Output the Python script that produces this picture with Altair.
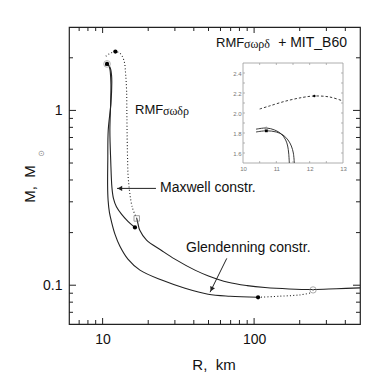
import altair as alt
import pandas as pd

# ---------------- data (R in km, M in solar masses) ----------------
# Maxwell construction branch (inner)
A_R = [10.4, 10.7, 11.0, 11.2, 11.3, 11.35, 11.3, 11.17, 11.31, 11.52, 11.79, 12.34, 13.36, 14.69, 16.35]
A_M = [1.83, 1.845, 1.80, 1.70, 1.55, 1.4, 1.1, 0.769, 0.518, 0.363, 0.314, 0.281, 0.254, 0.232, 0.214]
# Glendenning construction branch (outer)
B_R = [10.4, 10.7, 11.05, 11.3, 11.45, 11.5, 11.35, 10.89, 10.82, 10.79, 10.87, 11.09, 11.47, 12.06, 13.01,
       14.69, 17.64, 24.55, 35.0, 49.7, 69.4, 106.2]
B_M = [1.81, 1.825, 1.80, 1.72, 1.6, 1.45, 1.1, 0.769, 0.518, 0.373, 0.306, 0.261, 0.229, 0.196, 0.167,
       0.141, 0.122, 0.107, 0.0961, 0.0888, 0.0865, 0.0853]
# hadronic branch, low-mass part (solid)
U_R = [16.8, 17.1, 17.6, 19.5, 24.5, 30.0, 40.7, 50.0, 67.3, 90.0, 118, 170, 245, 350, 500]
U_M = [0.241, 0.226, 0.206, 0.181, 0.158, 0.141, 0.122, 0.113, 0.104, 0.0995, 0.097, 0.0952, 0.0945, 0.0955, 0.0965]
# hadronic branch, high-mass part (dotted)
D_R = [10.5, 11.0, 11.6, 12.14, 12.7, 13.3, 13.9, 14.2, 14.4, 14.45, 14.5, 14.6, 14.8, 15.7, 16.8]
D_M = [2.04, 2.10, 2.15, 2.17, 2.15, 2.08, 1.9, 1.6, 1.3, 1.0, 0.77, 0.55, 0.40, 0.279, 0.241]
# dotted connector at low mass
E_R = [106, 150, 200, 240]
E_M = [0.0853, 0.0866, 0.0880, 0.0905]

# markers
DOT_R = [12.14, 10.7, 16.35, 106.2]
DOT_M = [2.17, 1.845, 0.214, 0.0853]
SQ_R = [16.8]
SQ_M = [0.241]
CIRC_R = [245]
CIRC_M = [0.094]
RING_R = [10.7]
RING_M = [1.845]

# arrows
MAXW_R = [22.5, 12.45]
MAXW_M = [0.358, 0.358]
MAXW_HEAD_R = [13.0]
MAXW_HEAD_M = [0.358]
GLEN_R = [66.0, 51.2]
GLEN_M = [0.1424, 0.0912]
GLEN_HEAD_R = [52.4]
GLEN_HEAD_M = [0.0948]

# axis ticks
X_MAJOR = [10, 100]
X_MINOR = [7, 8, 9, 20, 30, 40, 50, 60, 70, 80, 90, 200, 300, 400]
Y_MAJOR = [0.1, 1]
Y_MINOR = [0.07, 0.08, 0.09, 0.2, 0.3, 0.4, 0.5, 0.6, 0.7, 0.8, 0.9, 2]

# inset data
ID_R = [10.5, 10.79, 11.29, 11.79, 12.14, 12.6, 13.0]
ID_M = [2.04, 2.07, 2.12, 2.156, 2.17, 2.16, 2.12]
I1_R = [10.39, 10.7, 10.95, 11.15, 11.28, 11.34, 11.37, 11.39]
I1_M = [1.838, 1.85, 1.83, 1.79, 1.73, 1.67, 1.60, 1.5]
I2_R = [10.39, 10.7, 11.0, 11.2, 11.35, 11.45, 11.51, 11.54]
I2_M = [1.81, 1.822, 1.81, 1.78, 1.73, 1.67, 1.60, 1.5]
IN_DOT_R = [12.14]
IN_DOT_M = [2.17]
IN_SQ_R = [10.7]
IN_SQ_M = [1.822]
IN_TRI_R = [10.7]
IN_TRI_M = [1.85]
IN_X_LABELS = [10, 11, 12, 13]
IN_Y_LABELS = [1.6, 1.8, 2.0, 2.2, 2.4]
IN_X_TICKS = [10.5, 11, 11.5, 12, 12.5]
IN_Y_TICKS = [1.6, 1.7, 1.8, 1.9, 2.0, 2.1, 2.2, 2.3, 2.4]

# ---------------- chart ----------------
W, H = 291, 297
FONT = "Liberation Sans"
INK = "#222"

xs = alt.Scale(type="log", domain=[6, 500], nice=False)
ys = alt.Scale(type="log", domain=[0.06, 3], nice=False)
x_axis = alt.Axis(values=X_MAJOR, format="~g", ticks=False, tickSize=0, domain=False, grid=False,
                  labelFontSize=14, labelFont=FONT, labelColor="#111", labelPadding=8,
                  title=None, orient="bottom", labelFlush=False)
y_axis = alt.Axis(values=Y_MAJOR, format="~g", ticks=False, tickSize=0, domain=False, grid=False,
                  labelFontSize=14, labelFont=FONT, labelColor="#111", labelPadding=7,
                  title=None, orient="left", labelFlush=False)


def X(f="R"):
    return alt.X(f"{f}:Q", scale=xs, axis=x_axis)


def Y(f="M"):
    return alt.Y(f"{f}:Q", scale=ys, axis=y_axis)


def frame(name, Rs, Ms):
    return pd.DataFrame({"R": Rs, "M": Ms, "s": name, "i": list(range(len(Rs)))})


solid = pd.concat([frame("A", A_R, A_M), frame("B", B_R, B_M), frame("U", U_R, U_M)])
dotted = pd.concat([frame("D", D_R, D_M), frame("E", E_R, E_M)])

solid_l = alt.Chart(solid).mark_line(color=INK, strokeWidth=1.1, interpolate="catmull-rom").encode(
    x=X(), y=Y(), detail="s:N", order="i:Q")
dotted_l = alt.Chart(dotted).mark_line(color=INK, strokeWidth=1.1, strokeDash=[1, 2.2],
                                       interpolate="catmull-rom").encode(
    x=X(), y=Y(), detail="s:N", order="i:Q")

ring_l = alt.Chart(frame("r", RING_R, RING_M)).mark_point(shape="circle", size=45, filled=False,
                                                          color="#999", strokeWidth=1).encode(x=X(), y=Y())
dots_l = alt.Chart(frame("d", DOT_R, DOT_M)).mark_point(shape="circle", size=18, filled=True,
                                                        color="#000", opacity=1).encode(x=X(), y=Y())
sq_l = alt.Chart(frame("q", SQ_R, SQ_M)).mark_point(shape="square", size=30, filled=False,
                                                    color="#777", strokeWidth=1).encode(x=X(), y=Y())
circ_l = alt.Chart(frame("c", CIRC_R, CIRC_M)).mark_point(shape="circle", size=40, filled=False,
                                                          color="#888", strokeWidth=1).encode(x=X(), y=Y())
circdot_l = alt.Chart(frame("c", CIRC_R, CIRC_M)).mark_point(shape="circle", size=3, filled=True,
                                                             color="#888", opacity=1).encode(x=X(), y=Y())

maxw_l = alt.Chart(frame("m", MAXW_R, MAXW_M)).mark_line(color=INK, strokeWidth=1).encode(
    x=X(), y=Y(), order="i:Q")
maxw_h = alt.Chart(frame("mh", MAXW_HEAD_R, MAXW_HEAD_M)).mark_point(
    shape="triangle-left", size=28, filled=True, color=INK, opacity=1).encode(x=X(), y=Y())
glen_l = alt.Chart(frame("g", GLEN_R, GLEN_M)).mark_line(color=INK, strokeWidth=1).encode(
    x=X(), y=Y(), order="i:Q")
glen_h = alt.Chart(frame("gh", GLEN_HEAD_R, GLEN_HEAD_M)).mark_point(
    shape="triangle-up", size=28, filled=True, color=INK, opacity=1, angle=206).encode(x=X(), y=Y())


def tick_layer(vals, side, length, xsc, ysc, xax, yax, w, h, x0=0, y0=0, color=INK, sw=1):
    df = pd.DataFrame({"v": vals})
    c = alt.Chart(df).mark_rule(color=color, strokeWidth=sw)
    xe = alt.X("v:Q", scale=xsc, axis=xax)
    ye = alt.Y("v:Q", scale=ysc, axis=yax)
    if side == "bottom":
        return c.encode(x=xe, y=alt.value(y0 + h), y2=alt.value(y0 + h - length))
    if side == "top":
        return c.encode(x=xe, y=alt.value(y0), y2=alt.value(y0 + length))
    if side == "left":
        return c.encode(y=ye, x=alt.value(x0), x2=alt.value(x0 + length))
    return c.encode(y=ye, x=alt.value(x0 + w), x2=alt.value(x0 + w - length))


main_ticks = []
for side in ["bottom", "top"]:
    main_ticks.append(tick_layer(X_MAJOR, side, 6, xs, ys, x_axis, y_axis, W, H))
    main_ticks.append(tick_layer(X_MINOR, side, 4, xs, ys, x_axis, y_axis, W, H))
for side in ["left", "right"]:
    main_ticks.append(tick_layer(Y_MAJOR, side, 7, xs, ys, x_axis, y_axis, W, H))
    main_ticks.append(tick_layer(Y_MINOR, side, 4, xs, ys, x_axis, y_axis, W, H))

one = pd.DataFrame({"a": [0]})


def label(txt, x, y, size=14, font=FONT, align="left", angle=0, color="#111"):
    return alt.Chart(one).mark_text(text=txt, align=align, baseline="middle", fontSize=size,
                                    font=font, angle=angle, color=color).encode(
        x=alt.value(x), y=alt.value(y))


NB = "\u00a0"
texts = [
    label("RMF", 66, 83, size=13),
    label("σωδρ", 94, 84, size=12, font="Liberation Serif"),
    label("RMF", 147, 16, size=13),
    label("σωρδ", 175, 17, size=12, font="Liberation Serif"),
    label("+ MIT_B60", 278, 16, size=14, align="right"),
    label("Maxwell constr.", 91, 161, size=14),
    label("Glendenning constr.", 117, 221, size=14),
    label("M," + NB + NB + "M", -39, 157, size=15, align="center", angle=270),
    label("⊙", -28, 127, size=8, align="center", color="#888"),
    label("R," + NB + NB + "km", 145, 338, size=15, align="center"),
]

main = alt.layer(*main_ticks, solid_l, dotted_l, maxw_l, maxw_h, glen_l, glen_h,
                 ring_l, dots_l, sq_l, circ_l, circdot_l, *texts)

# ---------------- inset ----------------
IX0, IX1, IY0, IY1 = 174, 274, 36, 136
xs_in = alt.Scale(domain=[10, 13], range=[IX0, IX1], nice=False, zero=False)
ys_in = alt.Scale(domain=[1.5, 2.5], range=[IY1, IY0], nice=False, zero=False)
ax_in = alt.Axis(values=IN_X_LABELS, format="d", orient="bottom", offset=IY1 - H, ticks=False, tickSize=0,
                 domain=False, grid=False, labelFontSize=6, labelFont=FONT, labelColor="#777",
                 labelPadding=2, title=None, labelFlush=False)
ay_in = alt.Axis(values=IN_Y_LABELS, format=".1f", orient="left", offset=-IX0, ticks=False, tickSize=0,
                 domain=False, grid=False, labelFontSize=6, labelFont=FONT, labelColor="#777",
                 labelPadding=2, title=None, labelFlush=False)


def XI(f="R"):
    return alt.X(f"{f}:Q", scale=xs_in, axis=ax_in)


def YI(f="M"):
    return alt.Y(f"{f}:Q", scale=ys_in, axis=ay_in)


box = alt.Chart(one).mark_rect(fill="white", stroke="#999", strokeWidth=0.8).encode(
    x=alt.value(IX0), x2=alt.value(IX1), y=alt.value(IY0), y2=alt.value(IY1))
in_ticks = []
for side in ["bottom", "top"]:
    in_ticks.append(tick_layer(IN_X_TICKS, side, 2, xs_in, ys_in, ax_in, ay_in, IX1 - IX0, IY1 - IY0,
                               IX0, IY0, color="#999", sw=0.7))
for side in ["left", "right"]:
    in_ticks.append(tick_layer(IN_Y_TICKS, side, 2, xs_in, ys_in, ax_in, ay_in, IX1 - IX0, IY1 - IY0,
                               IX0, IY0, color="#999", sw=0.7))

in_solid = pd.concat([frame("1", I1_R, I1_M), frame("2", I2_R, I2_M)])
in_solid_l = alt.Chart(in_solid).mark_line(color=INK, strokeWidth=0.9, interpolate="catmull-rom").encode(
    x=XI(), y=YI(), detail="s:N", order="i:Q")
in_dash_l = alt.Chart(frame("d", ID_R, ID_M)).mark_line(color=INK, strokeWidth=0.9, strokeDash=[2.5, 2],
                                                        interpolate="catmull-rom").encode(
    x=XI(), y=YI(), order="i:Q")
in_dot = alt.Chart(frame("d", IN_DOT_R, IN_DOT_M)).mark_point(shape="circle", size=6, filled=True,
                                                              color="#000", opacity=1).encode(x=XI(), y=YI())
in_sq = alt.Chart(frame("s", IN_SQ_R, IN_SQ_M)).mark_point(shape="square", size=8, filled=True,
                                                           color="#000", opacity=1).encode(x=XI(), y=YI())
in_tri = alt.Chart(frame("t", IN_TRI_R, IN_TRI_M)).mark_point(shape="triangle-up", size=10, filled=False,
                                                              color="#888", strokeWidth=0.7).encode(x=XI(), y=YI())

inset = alt.layer(box, *in_ticks, in_solid_l, in_dash_l, in_dot, in_sq, in_tri)

chart = alt.layer(main, inset).resolve_scale(x="independent", y="independent").properties(
    width=W, height=H, autosize="none",
    padding={"left": 61, "top": 19, "right": 20, "bottom": 50},
    background="white",
).configure_view(stroke=INK, strokeWidth=1.2)

chart.save("out.html", embed_options={"renderer": "svg", "actions": False})
